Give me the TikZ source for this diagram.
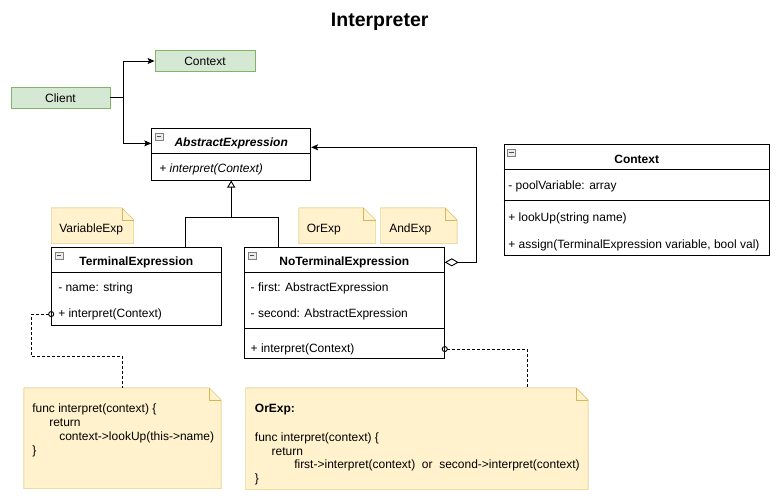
\documentclass[tikz,border=0pt]{standalone}
\usepackage{fontspec}
\setmainfont{Liberation Sans}
\usetikzlibrary{arrows.meta}
\usetikzlibrary{calc}
\usetikzlibrary{positioning}
\usetikzlibrary{backgrounds}

\definecolor{greenfill}{HTML}{D5E8D4}
\definecolor{greenline}{HTML}{82B366}
\definecolor{notefill}{HTML}{FFF2CC}
\definecolor{noteline}{HTML}{D6B656}

\newcommand{\uml}{\fontsize{12}{13.7}\selectfont}

% note outline with folded corner, drawn round an empty node
\newcommand{\notebg}[1]{%
  \draw[notebox] (#1.north west) -- ($(#1.north east)+(-12,0)$) -- ($(#1.north east)+(0,12)$) -- (#1.south east) -- (#1.south west) -- cycle;
  \draw[notebox, fill=none] ($(#1.north east)+(-12,0)$) -- ++(0,12) -- ++(12,0);}

\tikzset{
  every node/.style={font=\uml},
  greenbox/.style={draw=greenline, fill=greenfill, minimum width=99pt, minimum height=21pt, inner sep=0pt},
  umlbox/.style={draw, fill=white, inner sep=0pt},
  head/.style={font=\uml\bfseries, minimum height=26pt, inner sep=0pt, yshift=-2.5pt},
  member/.style={anchor=west, inner sep=0pt, yshift=-2.2pt},
  notebox/.style={draw=noteline, fill=notefill},
  notetag/.style={minimum width=75.7pt, minimum height=35pt, inner sep=0pt},
  code/.style={anchor=north west, align=left, inner sep=0pt, yshift=-3pt},
  icon/.style={draw=gray, fill=gray!15, line width=0.6pt},
  assoc/.style={-{Stealth[length=7pt,width=6pt,inset=1.5pt]}},
  inherit/.style={-{Triangle[open,length=7pt,width=8pt]}},
  aggr/.style={{Diamond[open,length=14pt,width=8pt]}-{Stealth[length=7pt,width=6pt,inset=1.5pt]}},
  dotline/.style={dash pattern=on 3pt off 2pt, line width=1.1pt, {Circle[open,length=6pt,line width=0.9pt]}-, shorten <=-3pt}
}

\begin{document}
\begin{tikzpicture}[x=1pt,y=-1pt,line width=0.9pt]
\useasboundingbox (0,0) rectangle (779,500);

\node[font=\fontsize{19.5}{22}\selectfont\bfseries] (title) at (379.7,22) {Interpreter};

% client and context
\node[greenbox] (client) at (60.5,97.8) {Client};
\node[greenbox, minimum width=100pt] (ctx) at (205,61) {Context};

% abstract expression
\node[umlbox, minimum width=159pt, minimum height=51.7pt] (abs) at (231.2,154.2) {};
\node[head, minimum width=159pt, font=\uml\bfseries\itshape] (abs-head) at ($(abs.north)+(0,13)$) {AbstractExpression};
\draw ($(abs.north west)+(0,26)$) -- ($(abs.north east)+(0,26)$);
\node[member, font=\uml\itshape] (abs-op) at ($(abs.north west)+(7.6,39.4)$) {+ interpret(Context)};

% terminal expression
\node[umlbox, minimum width=169.3pt, minimum height=77.7pt] (term) at (136.3,286.2) {};
\node[head, minimum width=169.3pt] (term-head) at ($(term.north)+(0,13)$) {TerminalExpression};
\draw ($(term.north west)+(0,26)$) -- ($(term.north east)+(0,26)$);
\node[member] (term-name) at ($(term.north west)+(6.6,39.4)$) {- name: string};
\node[member] (term-op) at ($(term.north west)+(6.6,65)$) {+ interpret(Context)};

% non terminal expression
\node[umlbox, minimum width=200pt, minimum height=111pt] (noterm) at (344.3,302.8) {};
\node[head, minimum width=200pt] (noterm-head) at ($(noterm.north)+(0,13)$) {NoTerminalExpression};
\draw ($(noterm.north west)+(0,26)$) -- ($(noterm.north east)+(0,26)$);
\draw ($(noterm.north west)+(0,82)$) -- ($(noterm.north east)+(0,82)$);
\node[member] (noterm-first) at ($(noterm.north west)+(6.4,39.4)$) {- first: AbstractExpression};
\node[member] (noterm-second) at ($(noterm.north west)+(6.4,65)$) {- second: AbstractExpression};
\node[member] (noterm-op) at ($(noterm.north west)+(6.4,100)$) {+ interpret(Context)};

% context class
\node[umlbox, minimum width=265.3pt, minimum height=110.7pt] (ctxcls) at (636.7,199.7) {};
\node[head, minimum width=265.3pt, minimum height=25.7pt] (ctxcls-head) at ($(ctxcls.north)+(0,12.85)$) {Context};
\draw ($(ctxcls.north west)+(0,25.7)$) -- ($(ctxcls.north east)+(0,25.7)$);
\draw ($(ctxcls.north west)+(0,56.4)$) -- ($(ctxcls.north east)+(0,56.4)$);
\node[member] (ctxcls-pool) at ($(ctxcls.north west)+(4.3,40.7)$) {- poolVariable: array};
\node[member] (ctxcls-lookup) at ($(ctxcls.north west)+(4.3,72.4)$) {+ lookUp(string name)};
\node[member] (ctxcls-assign) at ($(ctxcls.north west)+(4.3,99)$) {+ assign(TerminalExpression variable, bool val)};

\foreach \c in {abs,term,noterm,ctxcls}{
  \draw[icon] ($(\c.north west)+(4,5)$) rectangle ++(8,7);
  \draw[gray!60!black, line width=0.7pt] ($(\c.north west)+(5.8,8.5)$) -- ++(4.4,0);
}

% notes
\node[notetag, minimum width=81.6pt] (varnote) at (92.5,225.8) {};
\node[member] (varnote-txt) at ($(varnote.west)+(7.6,1.5)$) {VariableExp};
\node[notetag] (ornote) at (337.2,225.8) {};
\node[member] (ornote-txt) at ($(ornote.west)+(7.4,1.5)$) {OrExp};
\node[notetag] (andnote) at (418.8,225.8) {};
\node[member] (andnote-txt) at ($(andnote.west)+(8.3,1.5)$) {AndExp};

\node[notetag, minimum width=196.4pt, minimum height=100pt] (note1) at (122.5,438.3) {};
\node[code] (note1-txt) at ($(note1.north west)+(8,13)$) {func interpret(context) \{\\
  \hspace*{17pt}return\\
  \hspace*{27pt}context->lookUp(this->name)\\
  \}};

\node[notetag, minimum width=341.7pt, minimum height=101pt] (note2) at (416.8,438.8) {};
\node[code] (note2-txt) at ($(note2.north west)+(9,13)$) {\textbf{OrExp:}\\[15pt]
  func interpret(context) \{\\
  \hspace*{16.7pt}return\\
  \hspace*{39.3pt}first->interpret(context)\ \ or\ \ second->interpret(context)\\
  \}};

\begin{scope}[on background layer]
  \notebg{varnote}
  \notebg{ornote}
  \notebg{andnote}
  \notebg{note1}
  \notebg{note2}
\end{scope}

% connectors
\draw[assoc] (client.east) -- ++(12.5,0) |- (ctx.west);
\draw[assoc] (client.east) -- ++(12.5,0) |- (abs-head.west);

\coordinate (term-top) at ($(term.north west)+(134,0)$);
\coordinate (noterm-top) at ($(noterm.north west)+(35,0)$);
\coordinate (gen-split) at ($(abs.south)+(0,36.7)$);
\draw (term-top) |- (gen-split) -| (noterm-top);
\draw[inherit] (gen-split) -- (abs.south);

\coordinate (agg-in) at ($(abs.north east)+(0,19.4)$);
\draw[aggr] (noterm-head.east) -- ++(31.7,0) |- (agg-in);

\draw[dotline] (term.west |- term-op) -- ++(-19.7,0) |- ($(note1.north)+(0,-31.6)$) -- (note1.north);
\coordinate (note2-in) at ($(note2.north east)+(-60.7,0)$);
\draw[dotline] (noterm.east |- noterm-op) -| (note2-in);

\end{tikzpicture}
\end{document}
